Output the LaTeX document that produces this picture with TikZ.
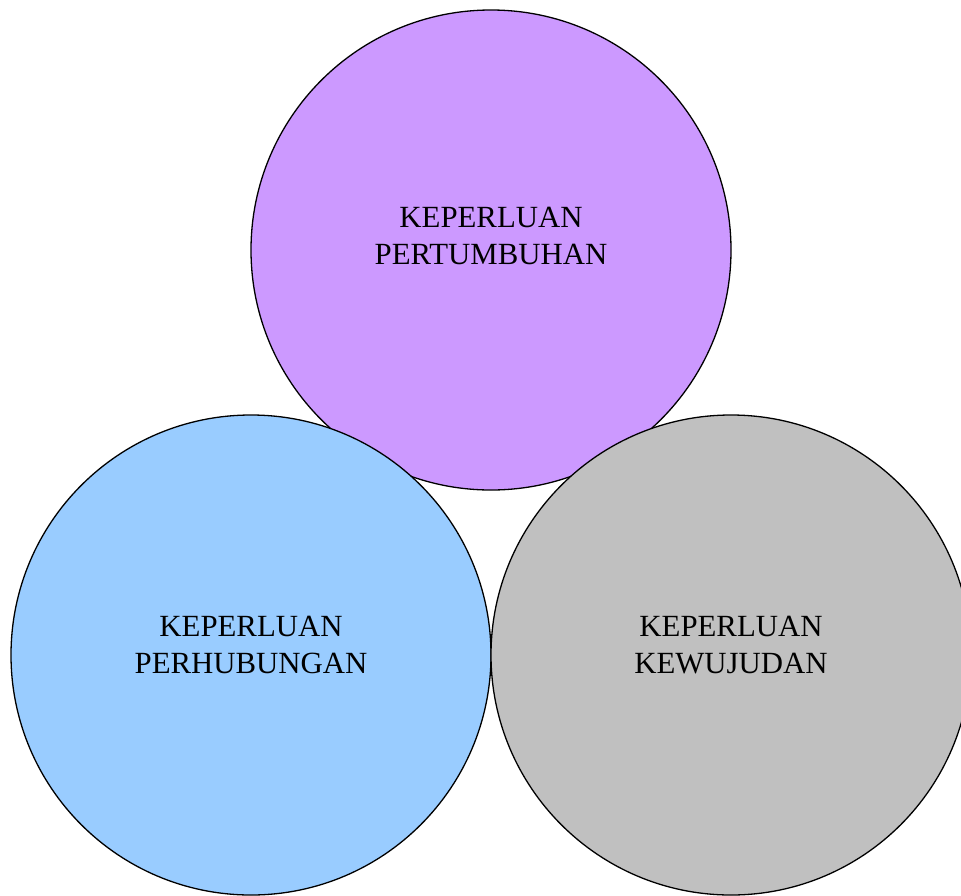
\documentclass[tikz,border=0pt]{standalone}
\usepackage{fontspec}
\setmainfont{Liberation Serif}
\definecolor{needPurple}{HTML}{CC99FF}
\definecolor{needBlue}{HTML}{99CCFF}
\definecolor{needGray}{HTML}{C0C0C0}
\begin{document}
\begin{tikzpicture}[x=1pt,y=-1pt]
            \tikzstyle{every node}+=[inner sep=0pt]
            \tikzstyle{need}=[draw=black, line width=1.3pt, circle, minimum size=480pt]
            \tikzstyle{needtext}=[align=center, font=\fontsize{30.8}{37.5}\selectfont]
            \useasboundingbox (0,0) rectangle (961,895);
            \node [need, fill=needPurple] (pertumbuhan) at (491,250) {};
            \node [needtext] (pertumbuhanText) at (491,236) {KEPERLUAN\\PERTUMBUHAN};
            \node [need, fill=needBlue] (perhubungan) at (251,655) {};
            \node [needtext] (perhubunganText) at (251,645) {KEPERLUAN\\PERHUBUNGAN};
            \node [need, fill=needGray] (kewujudan) at (731,655) {};
            \node [needtext] (kewujudanText) at (731,645) {KEPERLUAN\\KEWUJUDAN};
        \end{tikzpicture}
\end{document}
